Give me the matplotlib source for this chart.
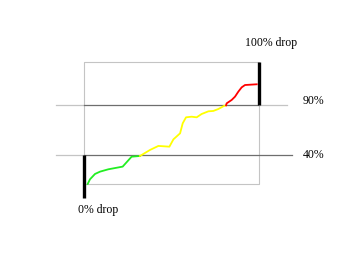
import matplotlib
matplotlib.use("Agg")
from matplotlib import pyplot as plt

# progress through the run (0-100) and level inside the box (0 = bottom, 100 = top)
green_x = [1.9, 3.2, 6.1, 9.0, 13.7, 21.9, 27.0, 31.8]
green_y = [0, 3.8, 8.2, 10.1, 12.0, 14.2, 22.3, 22.9]
yellow_x = [31.8, 37.5, 42.3, 48.6, 50.9, 54.7, 56.2, 58.1, 61.3, 64.2, 67.0, 70.9, 73.7, 76.6, 79.8, 81.0]
yellow_y = [22.9, 27.8, 31.1, 30.5, 36.5, 41.4, 49.6, 54.5, 55.0, 54.5, 57.2, 59.4, 59.7, 61.3, 63.8, 64.3]
red_x = [81.0, 81.3, 84.2, 86.1, 88.0, 89.9, 91.8, 98.5]
red_y = [64.3, 65.9, 68.7, 71.4, 75.5, 79.0, 80.9, 81.5]

level_40 = 23.4
level_90 = 64.3

fig = plt.figure(figsize=(3.5, 2.63), dpi=100)
ax = fig.add_axes([0, 0, 1, 1])
ax.set_xlim(-48.2, 151.8)
ax.set_ylim(-64.6, 150.4)
ax.axis('off')

# box
ax.plot([0, 100, 100, 0, 0], [0, 0, 100, 100, 0], color='#c4c4c4', lw=0.8)

# threshold lines
ax.plot([-16.2, 0], [level_90, level_90], color='#c4c4c4', lw=0.9)
ax.plot([0, 100], [level_90, level_90], color='#6e6e6e', lw=0.9)
ax.plot([100, 115.7], [level_90, level_90], color='#c4c4c4', lw=0.9)
ax.plot([-16.2, 0], [level_40, level_40], color='#c4c4c4', lw=0.9)
ax.plot([0, 118.5], [level_40, level_40], color='#6e6e6e', lw=0.9)

# drop markers
ax.plot([0, 0], [-11.4, level_40], color='black', lw=2.4, solid_capstyle='butt')
ax.plot([100, 100], [level_90, 100], color='black', lw=2.4, solid_capstyle='butt')

# curve
ax.plot(green_x, green_y, color='#22ee22', lw=1.3)
ax.plot(yellow_x, yellow_y, color='#ffff00', lw=1.3)
ax.plot(red_x, red_y, color='#ff0000', lw=1.3)

font = dict(family='Liberation Serif', fontsize=8.5, color='black')
ax.text(106.7, 115.3, '100% drop', ha='center', va='center', **font)
ax.text(125, 67.9, '90%', ha='left', va='center', **font)
ax.text(125, 23.7, '40%', ha='left', va='center', **font)
ax.text(7.8, -21.3, '0% drop', ha='center', va='center', **font)

fig.savefig('out.png', dpi=100)
